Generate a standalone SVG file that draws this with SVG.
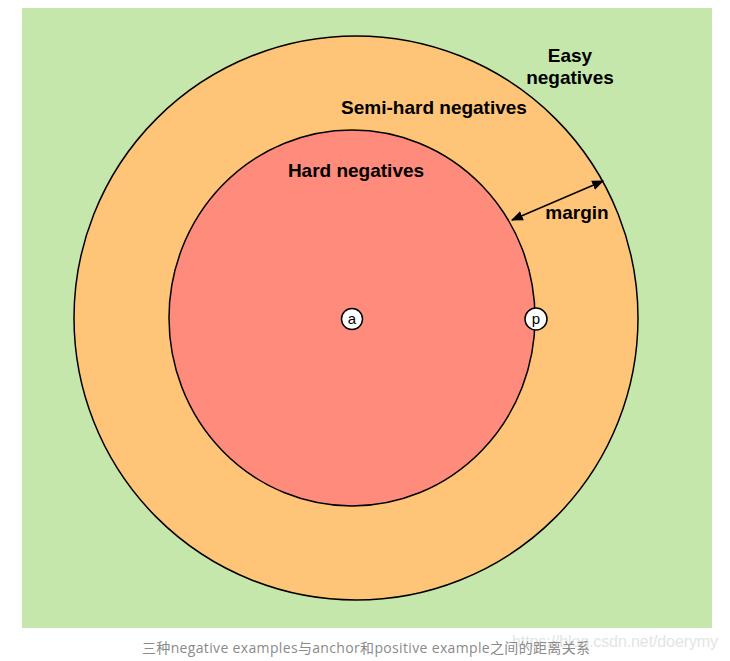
<svg xmlns="http://www.w3.org/2000/svg" width="730" height="661" viewBox="0 0 730 661">
<defs>
<style>
.lbl{font-family:"Liberation Sans",Arial,sans-serif;font-weight:bold;font-size:19px;fill:#000;text-anchor:middle}
.pt{fill:#fff;stroke:#000;stroke-width:1.5}
.ptl{font-family:"Liberation Sans",Arial,sans-serif;font-size:15px;fill:#000;text-anchor:middle}
.ring{stroke:#000;stroke-width:1.5}
</style>
<marker id="ah" viewBox="0 0 10 10" refX="9" refY="5" markerWidth="12" markerHeight="12" markerUnits="userSpaceOnUse" orient="auto-start-reverse">
<path d="M0,1 L10,5 L0,9 z" fill="#000"/>
</marker>
</defs>
<rect x="0" y="0" width="730" height="661" fill="#fff"/>
<g id="easy">
<rect x="22" y="8" width="690" height="620" fill="#c6e7ac"/>
<text class="lbl" x="570" y="62">Easy</text>
<text class="lbl" x="570" y="84">negatives</text>
</g>
<g id="semihard">
<ellipse class="ring" cx="356" cy="318" rx="282" ry="282" fill="#fec477"/>
<text class="lbl" x="434" y="114">Semi-hard negatives</text>
</g>
<g id="hard">
<ellipse class="ring" cx="352" cy="318" rx="183" ry="188" fill="#fe8b7c"/>
<text class="lbl" x="356" y="177">Hard negatives</text>
</g>
<g id="connectors">
<line x1="512" y1="220" x2="603" y2="181" stroke="#000" stroke-width="1.5" marker-start="url(#ah)" marker-end="url(#ah)"/>
<text class="lbl" x="577" y="219">margin</text>
</g>
<g id="a">
<circle class="pt" cx="352" cy="319" r="10.5"/>
<text class="ptl" x="352" y="324">a</text>
</g>
<g id="p">
<circle class="pt" cx="536" cy="319" r="11"/>
<text class="ptl" x="536" y="324">p</text>
</g>
<g id="caption">
<text x="512" y="647" font-family="'Liberation Sans',Arial,sans-serif" font-size="16" fill="#e4e4e4" textLength="206">https://blog.csdn.net/doerymy</text>
<text x="142" y="653" font-family="'Open Sans','Noto Sans CJK SC',sans-serif" font-size="14" fill="#8a8a8a" textLength="448">三种negative examples与anchor和positive example之间的距离关系</text>
</g>
</svg>
